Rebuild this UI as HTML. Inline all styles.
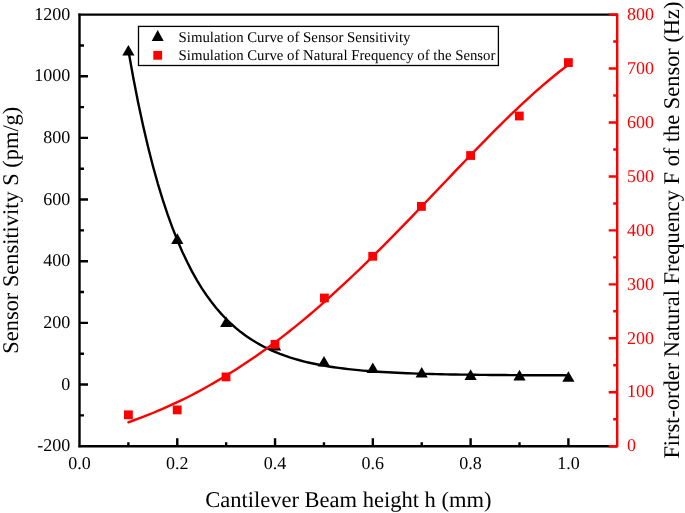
<!DOCTYPE html>
<html><head><meta charset="utf-8"><title>chart</title>
<style>html,body{margin:0;padding:0;background:#fff;}svg{display:block;will-change:transform;text-rendering:geometricPrecision;font-family:"Liberation Serif",serif;}</style></head><body>
<svg width="685" height="513" viewBox="0 0 685 513">
<rect width="685" height="513" fill="#fff"/>
<g stroke="#000" stroke-width="2.4" fill="none" stroke-linecap="butt">
<path d="M79.5,13.6 V447.2"/>
<path d="M78.5,14.6 H617.2"/>
<path d="M78.5,446.2 H617.2"/>
<path d="M128.39,446.2 v-4 M177.28,446.2 v-8 M226.17,446.2 v-4 M275.06,446.2 v-8 M323.95,446.2 v-4 M372.84,446.2 v-8 M421.73,446.2 v-4 M470.62,446.2 v-8 M519.51,446.2 v-4 M568.4,446.2 v-8 "/>
<path d="M79.5,415.37 h4.5 M79.5,384.54 h8.5 M79.5,353.71 h4.5 M79.5,322.89 h8.5 M79.5,292.06 h4.5 M79.5,261.23 h8.5 M79.5,230.4 h4.5 M79.5,199.57 h8.5 M79.5,168.74 h4.5 M79.5,137.91 h8.5 M79.5,107.09 h4.5 M79.5,76.26 h8.5 M79.5,45.43 h4.5 "/>
</g>
<g stroke="#f00" stroke-width="2.4" fill="none">
<path d="M617.2,13.6 V447.2"/>
<path d="M617.2,446.2 h-8.5 M617.2,419.22 h-4 M617.2,392.25 h-8.5 M617.2,365.27 h-4 M617.2,338.3 h-8.5 M617.2,311.32 h-4 M617.2,284.35 h-8.5 M617.2,257.38 h-4 M617.2,230.4 h-8.5 M617.2,203.43 h-4 M617.2,176.45 h-8.5 M617.2,149.48 h-4 M617.2,122.5 h-8.5 M617.2,95.52 h-4 M617.2,68.55 h-8.5 M617.2,41.57 h-4 M617.2,14.6 h-8.5 "/>
</g>
<path d="M128.39,50.55 L133.28,77.78 L138.17,102.73 L143.06,125.58 L147.95,146.53 L152.84,165.71 L157.72,183.29 L162.61,199.4 L167.5,214.15 L172.39,227.67 L177.28,240.06 L182.17,251.4 L187.06,261.8 L191.95,271.33 L196.84,280.05 L201.72,288.05 L206.61,295.37 L211.5,302.08 L216.39,308.23 L221.28,313.87 L226.17,319.03 L231.06,323.76 L235.95,328.09 L240.84,332.06 L245.73,335.7 L250.61,339.03 L255.5,342.08 L260.39,344.88 L265.28,347.44 L270.17,349.79 L275.06,351.94 L279.95,353.91 L284.84,355.71 L289.73,357.37 L294.62,358.88 L299.5,360.27 L304.39,361.54 L309.28,362.71 L314.17,363.78 L319.06,364.75 L323.95,365.65 L328.84,366.47 L333.73,367.22 L338.62,367.91 L343.51,368.55 L348.39,369.12 L353.28,369.65 L358.17,370.14 L363.06,370.58 L367.95,370.99 L372.84,371.37 L377.73,371.71 L382.62,372.02 L387.51,372.31 L392.4,372.57 L397.28,372.81 L402.17,373.03 L407.06,373.24 L411.95,373.42 L416.84,373.59 L421.73,373.75 L426.62,373.89 L431.51,374.02 L436.4,374.14 L441.29,374.25 L446.17,374.35 L451.06,374.44 L455.95,374.53 L460.84,374.6 L465.73,374.67 L470.62,374.74 L475.51,374.8 L480.4,374.85 L485.29,374.9 L490.18,374.95 L495.06,374.99 L499.95,375.03 L504.84,375.06 L509.73,375.1 L514.62,375.13 L519.51,375.15 L524.4,375.18 L529.29,375.2 L534.18,375.22 L539.07,375.24 L543.95,375.26 L548.84,375.27 L553.73,375.29 L558.62,375.3 L563.51,375.31 L568.4,375.33" stroke="#000" stroke-width="2.4" fill="none" stroke-linejoin="round" stroke-linecap="round"/>
<path d="M128.39,422.26 L133.28,420.5 L138.17,418.69 L143.06,416.84 L147.95,414.94 L152.84,413 L157.72,410.94 L162.61,408.84 L167.5,406.68 L172.39,404.46 L177.28,402.19 L182.17,399.86 L187.06,397.47 L191.95,394.95 L196.84,392.36 L201.72,389.71 L206.61,386.99 L211.5,384.21 L216.39,381.36 L221.28,378.44 L226.17,375.46 L231.06,372.47 L235.95,369.4 L240.84,366.27 L245.73,363.07 L250.61,359.8 L255.5,356.46 L260.39,353.05 L265.28,349.57 L270.17,346 L275.06,342.36 L279.95,338.65 L284.84,334.88 L289.73,331.03 L294.62,327.12 L299.5,323.14 L304.39,319.09 L309.28,314.98 L314.17,310.8 L319.06,306.56 L323.95,302.25 L328.84,297.89 L333.73,293.47 L338.62,288.99 L343.51,284.45 L348.39,279.86 L353.28,275.25 L358.17,270.58 L363.06,265.87 L367.95,261.11 L372.84,256.31 L377.73,251.46 L382.62,246.58 L387.51,241.65 L392.4,236.7 L397.28,231.71 L402.17,226.69 L407.06,221.64 L411.95,216.58 L416.84,211.49 L421.73,206.38 L426.62,201.26 L431.51,196.13 L436.4,191 L441.29,185.85 L446.17,180.71 L451.06,175.58 L455.95,170.45 L460.84,165.33 L465.73,160.23 L470.62,155.15 L475.51,150.09 L480.4,145.06 L485.29,140.06 L490.18,135.1 L495.06,130.18 L499.95,125.31 L504.84,120.49 L509.73,115.72 L514.62,111.02 L519.51,106.38 L524.4,101.81 L529.29,97.33 L534.18,92.92 L539.07,88.6 L543.95,84.37 L548.84,80.24 L553.73,76.22 L558.62,72.3 L563.51,68.51 L568.4,64.83" stroke="#f00" stroke-width="2.4" fill="none" stroke-linejoin="round" stroke-linecap="round"/>
<g fill="#000">
<path d="M128.4,44.9 l6.1,10.6 h-12.2 z"/>
<path d="M177.3,233.3 l6.1,10.6 h-12.2 z"/>
<path d="M226.2,316.4 l6.1,10.6 h-12.2 z"/>
<path d="M275.1,339.9 l6.1,10.6 h-12.2 z"/>
<path d="M324,356 l6.1,10.6 h-12.2 z"/>
<path d="M372.8,362.5 l6.1,10.6 h-12.2 z"/>
<path d="M421.7,367 l6.1,10.6 h-12.2 z"/>
<path d="M470.6,369.3 l6.1,10.6 h-12.2 z"/>
<path d="M519.5,369.8 l6.1,10.6 h-12.2 z"/>
<path d="M568.4,371.2 l6.1,10.6 h-12.2 z"/>
</g>
<g fill="#f00">
<rect x="124" y="410.4" width="8.8" height="8.8"/>
<rect x="172.8" y="405.5" width="8.8" height="8.8"/>
<rect x="221.6" y="372.5" width="8.8" height="8.8"/>
<rect x="270.6" y="339.9" width="8.8" height="8.8"/>
<rect x="320" y="293.6" width="8.8" height="8.8"/>
<rect x="368.3" y="251.9" width="8.8" height="8.8"/>
<rect x="417" y="202" width="8.8" height="8.8"/>
<rect x="466.2" y="151.1" width="8.8" height="8.8"/>
<rect x="514.9" y="111.6" width="8.8" height="8.8"/>
<rect x="564" y="58.2" width="8.8" height="8.8"/>
</g>
<rect x="138.5" y="26.4" width="359.9" height="39.1" fill="#fff" stroke="#000" stroke-width="1.3"/>
<path d="M157.7,30.1 l6,10.8 h-12 z" fill="#000"/>
<rect x="153.3" y="50.9" width="8.8" height="8.8" fill="#f00"/>
<g font-size="14.8" fill="#000">
<text x="178.6" y="41.9">Simulation Curve of Sensor Sensitivity</text>
<text x="178.6" y="60">Simulation Curve of Natural Frequency of the Sensor</text>
</g>
<g font-size="18" fill="#000" text-anchor="end">
<text x="70.3" y="451.4">-200</text>
<text x="70.3" y="389.74">0</text>
<text x="70.3" y="328.09">200</text>
<text x="70.3" y="266.43">400</text>
<text x="70.3" y="204.77">600</text>
<text x="70.3" y="143.11">800</text>
<text x="70.3" y="81.46">1000</text>
<text x="70.3" y="19.8">1200</text>
</g>
<g font-size="18" fill="#000" text-anchor="middle">
<text x="79.5" y="469.2">0.0</text>
<text x="177.28" y="469.2">0.2</text>
<text x="275.06" y="469.2">0.4</text>
<text x="372.84" y="469.2">0.6</text>
<text x="470.62" y="469.2">0.8</text>
<text x="568.4" y="469.2">1.0</text>
</g>
<g font-size="18" fill="#f00" text-anchor="start">
<text x="626.9" y="451.4">0</text>
<text x="626.9" y="397.45">100</text>
<text x="626.9" y="343.5">200</text>
<text x="626.9" y="289.55">300</text>
<text x="626.9" y="235.6">400</text>
<text x="626.9" y="181.65">500</text>
<text x="626.9" y="127.7">600</text>
<text x="626.9" y="73.75">700</text>
<text x="626.9" y="19.8">800</text>
</g>
<g font-size="22.4" fill="#000" text-anchor="middle">
<text x="348.3" y="506.8" font-size="22.5">Cantilever Beam height h (mm)</text>
<text transform="translate(18.3,230.2) rotate(-90)">Sensor Sensitivity S (pm/g)</text>
<text transform="translate(678.7,230.1) rotate(-90)">First-order Natural Frequency F of the Sensor (Hz)</text>
</g>
</svg></body></html>
